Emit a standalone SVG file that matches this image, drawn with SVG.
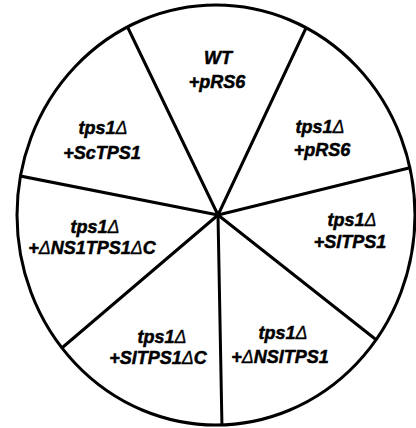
<svg xmlns="http://www.w3.org/2000/svg" width="416" height="428" viewBox="0 0 416 428">
  <style>
    .plate { fill: #ffffff; stroke: #000000; stroke-width: 3; }
    .spoke { stroke: #000000; stroke-width: 3; stroke-linecap: round; fill: none; }
    .lbl { font-family: "Liberation Sans", Arial, sans-serif; font-size: 18px; font-weight: bold; font-style: italic; fill: #000000; stroke: #000000; stroke-width: 0.5; text-anchor: middle; }
    .d { font-weight: normal; stroke-width: 0.3; }
  </style>
  <defs>
    <clipPath id="dish">
      <ellipse cx="216" cy="215" rx="199" ry="210"/>
    </clipPath>
  </defs>
  <rect x="0" y="0" width="416" height="428" fill="#ffffff"/>
  <g id="plate">
    <ellipse class="plate" cx="216" cy="215" rx="199" ry="210"/>
  </g>
  <g id="connectors" clip-path="url(#dish)">
    <line class="spoke" x1="218" y1="215" x2="128" y2="28"/>
    <line class="spoke" x1="218" y1="215" x2="306" y2="28"/>
    <line class="spoke" x1="218" y1="215" x2="413" y2="167"/>
    <line class="spoke" x1="218" y1="215" x2="379" y2="342"/>
    <line class="spoke" x1="218" y1="215" x2="222" y2="428"/>
    <line class="spoke" x1="218" y1="215" x2="63" y2="347"/>
    <line class="spoke" x1="218" y1="215" x2="15" y2="175"/>
  </g>
  <g id="sector-wt">
    <text class="lbl" x="218" y="64">WT</text>
    <text class="lbl" x="217" y="88">+pRS6</text>
  </g>
  <g id="sector-prs6">
    <text class="lbl" x="320" y="133">tps1<tspan class="d">Δ</tspan></text>
    <text class="lbl" x="322" y="156">+pRS6</text>
  </g>
  <g id="sector-sltps1">
    <text class="lbl" x="352" y="226">tps1<tspan class="d">Δ</tspan></text>
    <text class="lbl" x="350" y="248">+SlTPS1</text>
  </g>
  <g id="sector-dnsltps1">
    <text class="lbl" x="283" y="339">tps1<tspan class="d">Δ</tspan></text>
    <text class="lbl" x="280" y="363">+<tspan class="d">Δ</tspan>NSlTPS1</text>
  </g>
  <g id="sector-sltps1dc">
    <text class="lbl" x="162" y="343">tps1<tspan class="d">Δ</tspan></text>
    <text class="lbl" x="158" y="364">+SlTPS1<tspan class="d">Δ</tspan>C</text>
  </g>
  <g id="sector-dns1tps1dc">
    <text class="lbl" x="95" y="233">tps1<tspan class="d">Δ</tspan></text>
    <text class="lbl" x="92" y="254">+<tspan class="d">Δ</tspan>NS1TPS1<tspan class="d">Δ</tspan>C</text>
  </g>
  <g id="sector-sctps1">
    <text class="lbl" x="103" y="134">tps1<tspan class="d">Δ</tspan></text>
    <text class="lbl" x="102" y="159">+ScTPS1</text>
  </g>
</svg>
